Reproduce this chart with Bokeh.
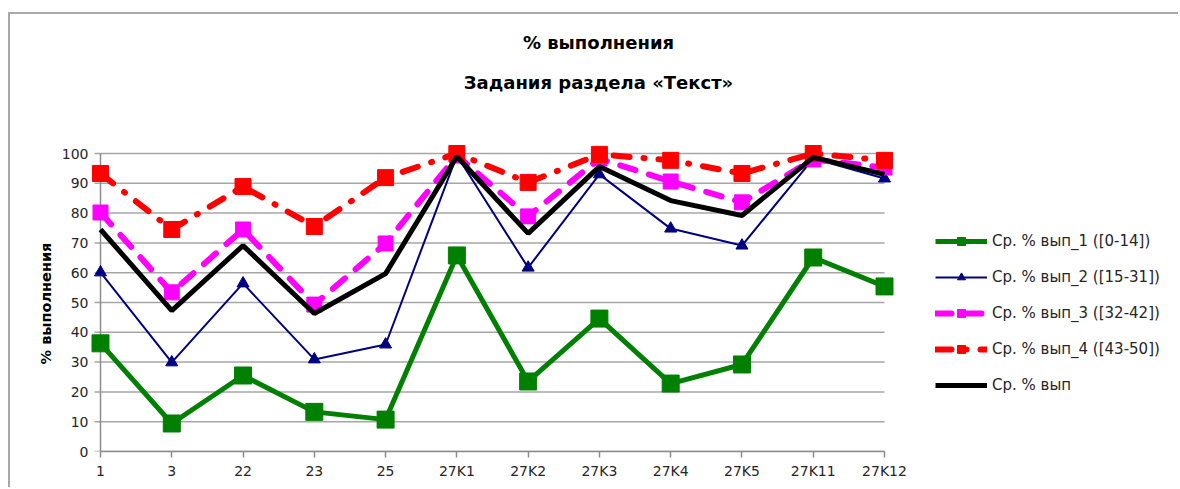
from bokeh.plotting import figure
from bokeh.models import (Range1d, FixedTicker, Legend, LegendItem, Label)
from bokeh.embed import file_html
from bokeh.resources import INLINE

categories = ["1", "3", "22", "23", "25", "27K1", "27K2", "27K3", "27K4", "27K5", "27K11", "27K12"]
s1 = [36.3, 9.4, 25.5, 13.3, 10.7, 65.8, 23.5, 44.6, 22.8, 29.2, 65.1, 55.4]
s2 = [60.1, 29.9, 56.4, 30.9, 35.9, 99.3, 61.7, 93.0, 74.8, 69.1, 98.3, 91.6]
s3 = [80.2, 53.4, 74.5, 49.3, 69.8, 99.3, 78.9, 98.3, 90.6, 83.6, 98.0, 95.3]
s4 = [93.3, 74.5, 88.9, 75.5, 91.9, 100.0, 90.3, 99.7, 97.7, 93.3, 100.0, 97.7]
avg = [74.5, 47.3, 69.1, 46.3, 59.7, 99.0, 73.2, 95.6, 84.2, 79.2, 98.7, 93.0]
names = ["Ср. % вып_1 ([0-14])", "Ср. % вып_2 ([15-31])", "Ср. % вып_3 ([32-42])",
         "Ср. % вып_4 ([43-50])", "Ср. % вып"]
yticks = list(range(0, 101, 10))
title_main = "% выполнения"
title_sub = "Задания раздела «Текст»"
y_title = "% выполнения"

x = list(range(len(categories)))
n = len(categories) - 1

# layout geometry (page px): canvas starts at (10, 14) because of the css frame
OX, OY = 10, 14
W, H = 1180 - OX, 489 - OY
X0, X1 = 100, 884          # page x of first / last category
Y0, Y100 = 451, 153        # page y of 0 and 100
FL = 30                    # page x of frame left
sx = (X1 - X0) / n
sy = (Y0 - Y100) / 100.0
x_start = -(X0 - FL) / sx
x_end = (1180 - X0) / sx
y_end = (Y0 - OY) / sy
tick_len = 6 / sx

FONT = "DejaVu Sans"
TXT = "#262626"
AXC = "#8c8c8c"
GRC = "#a6a6a6"

p = figure(width=W, height=H, output_backend="svg", toolbar_location=None,
           x_range=Range1d(x_start, x_end), y_range=Range1d(0, y_end),
           min_border_left=FL - OX, min_border_right=0, min_border_top=0,
           min_border_bottom=(OY + H) - Y0)
p.styles = {"margin-left": "8px", "margin-top": "12px",
            "border-left": "2px solid #a8a8a8", "border-top": "2px solid #a8a8a8"}
p.outline_line_color = None

# x axis
p.xaxis.ticker = FixedTicker(ticks=x)
p.xaxis.major_label_overrides = {i: c for i, c in enumerate(categories)}
p.xaxis.bounds = (0, n)
p.xaxis.axis_line_color = AXC
p.xaxis.axis_line_width = 1.5
p.xaxis.major_tick_line_color = AXC
p.xaxis.major_tick_line_width = 1.5
p.xaxis.major_tick_out = 6
p.xaxis.major_tick_in = 0
p.xaxis.major_label_standoff = 5

# y axis: labels shifted right so they sit just left of the first category
p.yaxis.ticker = FixedTicker(ticks=yticks)
p.yaxis.axis_line_color = None
p.yaxis.major_tick_line_color = None
p.yaxis.major_tick_out = 0
p.yaxis.major_tick_in = 0
p.yaxis.major_label_standoff = -(88 - FL)

for ax in (p.xaxis, p.yaxis):
    ax.minor_tick_line_color = None
    ax.major_label_text_font = FONT
    ax.major_label_text_font_size = "14px"
    ax.major_label_text_color = TXT

p.xgrid.grid_line_color = None
p.ygrid.grid_line_color = None

# horizontal gridlines (with their left tick stubs) and the y axis line
p.segment(x0=[-tick_len] * len(yticks), y0=yticks, x1=[n] * len(yticks), y1=yticks,
          line_color=GRC, line_width=1.5)
p.segment(x0=[0], y0=[0], x1=[0], y1=[100], line_color=AXC, line_width=1.5)

# series
r1l = p.line(x, s1, line_color="#008000", line_width=5)
r1m = p.scatter(x, s1, marker="square", size=17, fill_color="#008000", line_color="#008000")

r2l = p.line(x, s2, line_color="#000080", line_width=2)
r2m = p.scatter(x, s2, marker="triangle", size=12, fill_color="#000080", line_color="#000080")

r3l = p.line(x, s3, line_color="#ff00ff", line_width=6, line_dash="16 14", line_cap="round")
r3m = p.scatter(x, s3, marker="square", size=15, fill_color="#ff00ff", line_color="#ff00ff")

r4l = p.line(x, s4, line_color="#ff0000", line_width=6, line_dash="16 14 1 14", line_cap="round")
r4m = p.scatter(x, s4, marker="square", size=16, fill_color="#ff0000", line_color="#ff0000")

r5l = p.line(x, avg, line_color="#000000", line_width=5)

legend = Legend(items=[
    LegendItem(label=names[0], renderers=[r1l, r1m]),
    LegendItem(label=names[1], renderers=[r2l, r2m]),
    LegendItem(label=names[2], renderers=[r3l, r3m]),
    LegendItem(label=names[3], renderers=[r4l, r4m]),
    LegendItem(label=names[4], renderers=[r5l]),
], location=(935 - FL, Y0 - 395), padding=0, margin=0, border_line_color=None,
    background_fill_alpha=0, glyph_width=52, glyph_height=20, spacing=16,
    label_standoff=5, label_text_font=FONT, label_text_font_size="15px",
    label_text_color=TXT)
p.add_layout(legend, "center")

# titles
xc = (598 - X0) / sx
p.add_layout(Label(x=xc, y=(Y0 - 42) / sy, text=title_main, text_align="center",
                   text_baseline="middle", text_font=FONT, text_font_style="bold",
                   text_font_size="18px", text_color="#000000"))
p.add_layout(Label(x=xc, y=(Y0 - 82) / sy, text=title_sub, text_align="center",
                   text_baseline="middle", text_font=FONT, text_font_style="bold",
                   text_font_size="18px", text_color="#000000"))
p.add_layout(Label(x=(45 - X0) / sx, y=(Y0 - 303) / sy, text=y_title, angle=1.5707963,
                   text_align="center", text_baseline="middle", text_font=FONT,
                   text_font_style="bold", text_font_size="14.5px", text_color="#000000"))

open("out.html", "w").write(file_html(p, INLINE))
